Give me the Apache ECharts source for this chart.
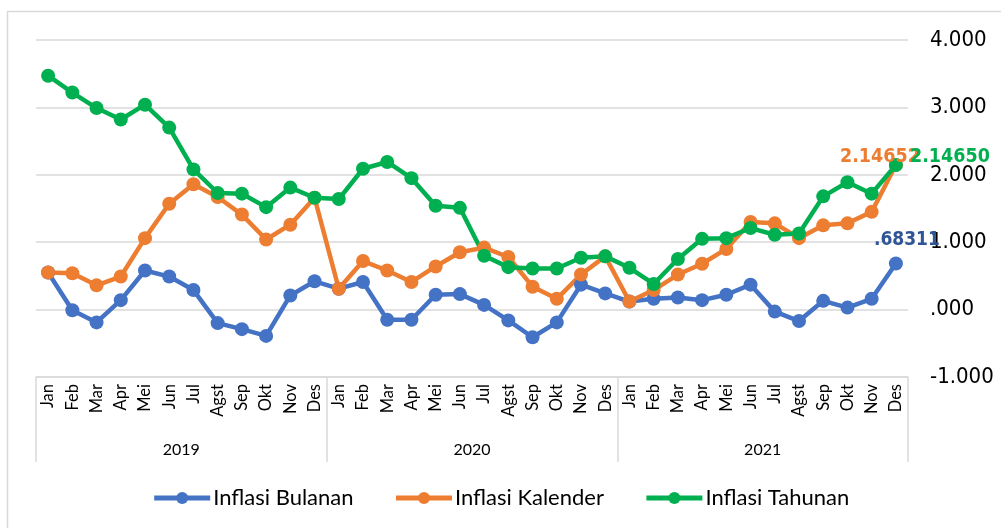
<!DOCTYPE html>
<html>
<head>
<meta charset="utf-8">
<script src="https://cdn.jsdelivr.net/npm/echarts@6/dist/echarts.min.js"></script>
<style>
html,body{margin:0;padding:0;background:#fff;}
#chart{width:1001px;height:528px;}
</style>
</head>
<body>
<div id="chart"></div>
<script>
const months = ['Jan','Feb','Mar','Apr','Mei','Jun','Jul','Agst','Sep','Okt','Nov','Des',
                'Jan','Feb','Mar','Apr','Mei','Jun','Jul','Agst','Sep','Okt','Nov','Des',
                'Jan','Feb','Mar','Apr','Mei','Jun','Jul','Agst','Sep','Okt','Nov','Des'];
const years = ['2019','2020','2021'];
const bulanan = [0.55,-0.01,-0.19,0.14,0.58,0.49,0.29,-0.20,-0.29,-0.39,0.21,0.42,
                 0.31,0.41,-0.15,-0.15,0.22,0.23,0.07,-0.16,-0.41,-0.19,0.37,0.24,
                 0.12,0.16,0.18,0.14,0.22,0.37,-0.03,-0.17,0.13,0.03,0.16,0.68311];
const kalender = [0.55,0.54,0.36,0.49,1.06,1.57,1.86,1.67,1.41,1.04,1.26,1.66,
                  0.31,0.72,0.58,0.41,0.64,0.85,0.92,0.78,0.34,0.16,0.52,0.79,
                  0.12,0.29,0.52,0.68,0.90,1.30,1.28,1.06,1.25,1.28,1.45,2.14652];
const tahunan = [3.47,3.22,2.99,2.82,3.04,2.70,2.08,1.73,1.72,1.52,1.81,1.66,
                 1.64,2.09,2.19,1.95,1.54,1.51,0.80,0.63,0.61,0.61,0.77,0.79,
                 0.62,0.38,0.75,1.05,1.06,1.21,1.11,1.13,1.68,1.89,1.72,2.14650];
const yTicks = [-1,0,1,2,3,4];

const NARROW = "'Liberation Sans Narrow','DejaVu Sans Condensed','Liberation Sans',sans-serif";
const LATO = "Lato,'Open Sans',sans-serif";

function withLastLabel(arr, color, offset, text, size){
  return arr.map((v,i)=> i===arr.length-1 ? {
    value:v,
    label:{show:true, position:'inside', offset:offset, color:color,
      fontFamily:NARROW, fontWeight:'bold', fontSize:size, formatter:text}
  } : v);
}

const chart = echarts.init(document.getElementById('chart'), null, {renderer:'canvas'});
const mk = (name, data, color) => ({
  name, type:'line', data, xAxisIndex:0, yAxisIndex:0,
  symbol:'circle', symbolSize:14, showSymbol:true,
  lineStyle:{width:4.5, color}, itemStyle:{color},
  emphasis:{disabled:true}, animation:false, z:2
});
chart.setOption({
  animation:false,
  graphic:[{type:'rect', shape:{x:7.5,y:11.5,width:1200,height:800},
    style:{fill:'none', stroke:'#d9d9d9', lineWidth:1.5}, silent:true}],
  legend:{
    bottom:14, left:'center', itemWidth:56, itemHeight:15, itemGap:40,
    lineStyle:{width:5},
    textStyle:{fontFamily:LATO, fontSize:22, color:'#000', padding:[0,0,0,-2]},
    data:['Inflasi Bulanan','Inflasi Kalender','Inflasi Tahunan']
  },
  grid:{left:36, right:93, top:40, bottom:151, containLabel:false},
  xAxis:[
    {type:'category', data:months, boundaryGap:true, position:'bottom',
     axisLine:{show:true, onZero:false, lineStyle:{color:'#d9d9d9', width:1.5}},
     axisTick:{show:false},
     axisLabel:{rotate:90, interval:0, margin:7, fontFamily:LATO, fontSize:16.5, color:'#000'},
     splitLine:{show:false}},
    {type:'category', data:years, boundaryGap:true, position:'bottom', gridIndex:0,
     axisLine:{show:false, onZero:false},
     axisTick:{show:true, length:85, interval:0, lineStyle:{color:'#d9d9d9', width:1.5}},
     axisLabel:{margin:65, fontFamily:LATO, fontSize:16, color:'#000'},
     splitLine:{show:false}}
  ],
  yAxis:{type:'value', position:'right', min:yTicks[0], max:yTicks[yTicks.length-1], interval:1,
    axisLine:{show:false}, axisTick:{show:false},
    splitLine:{lineStyle:{color:'#d9d9d9', width:1.5}},
    axisLabel:{margin:22, align:'left', fontFamily:NARROW, fontSize:22, color:'#000',
      formatter:v => v===0 ? '.000' : v.toFixed(3)}},
  series:[
    mk('Inflasi Bulanan', withLastLabel(bulanan,'#2F5597',[11,-23],'.68311',19), '#4472C4'),
    mk('Inflasi Kalender', withLastLabel(kalender,'#ED7D31',[-16,-8],'2.14652',19.5), '#ED7D31'),
    mk('Inflasi Tahunan', withLastLabel(tahunan,'#00B050',[54,-8],'2.14650',19.5), '#00B050')
  ]
});
</script>
</body>
</html>
